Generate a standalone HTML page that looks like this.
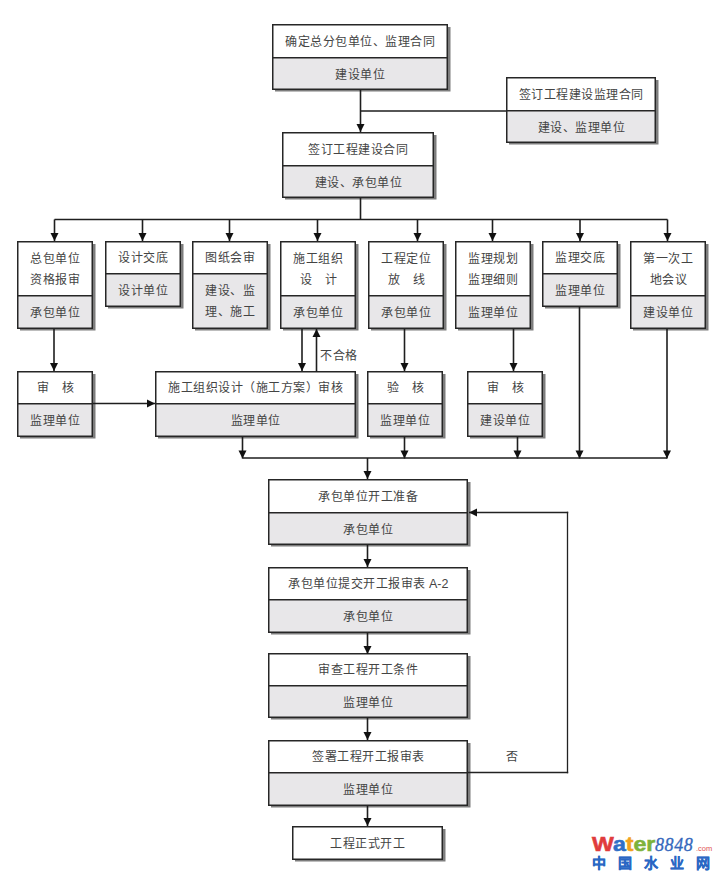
<!DOCTYPE html>
<html lang="zh-CN"><head><meta charset="utf-8"><style>
html,body{margin:0;padding:0;background:#fff;}
body{width:720px;height:880px;position:relative;overflow:hidden;font-family:"Liberation Serif",serif;color:#444;}
.b{position:absolute;box-sizing:border-box;background:#fff;overflow:hidden;}
.sh{position:absolute;background:#8a8a8a;}
.s{position:absolute;left:0;right:0;box-sizing:border-box;display:flex;flex-direction:column;align-items:center;justify-content:center;font-size:12px;line-height:21.5px;letter-spacing:0.5px;text-indent:0.5px;white-space:nowrap;padding-top:4px;}
.g{background:#e8e7e9;padding-top:5px;padding-bottom:1px;}
.t{position:absolute;font-size:12px;line-height:14px;letter-spacing:0.5px;white-space:nowrap;color:#444;}
svg{position:absolute;left:0;top:0;}
</style></head><body>

<svg width="720" height="880" viewBox="0 0 720 880"><rect x="275" y="27" width="175.5" height="64.5" fill="#7d7d7d"/><rect x="509" y="80" width="149.5" height="64.5" fill="#7d7d7d"/><rect x="285" y="135" width="151.5" height="64.5" fill="#7d7d7d"/><rect x="20" y="244" width="75.5" height="86.5" fill="#7d7d7d"/><rect x="108" y="244" width="75.5" height="64.5" fill="#7d7d7d"/><rect x="195" y="244" width="75.5" height="86.5" fill="#7d7d7d"/><rect x="283" y="244" width="75.5" height="86.5" fill="#7d7d7d"/><rect x="371" y="244" width="75.5" height="86.5" fill="#7d7d7d"/><rect x="458" y="244" width="75.5" height="86.5" fill="#7d7d7d"/><rect x="545" y="244" width="75.5" height="64.5" fill="#7d7d7d"/><rect x="633" y="244" width="75.5" height="86.5" fill="#7d7d7d"/><rect x="20" y="374" width="75.5" height="64.5" fill="#7d7d7d"/><rect x="158" y="374" width="200.5" height="64.5" fill="#7d7d7d"/><rect x="370" y="374" width="75.5" height="64.5" fill="#7d7d7d"/><rect x="470" y="374" width="75.5" height="64.5" fill="#7d7d7d"/><rect x="271" y="482" width="199.5" height="64.5" fill="#7d7d7d"/><rect x="271" y="570" width="199.5" height="64.5" fill="#7d7d7d"/><rect x="271" y="656" width="199.5" height="63.5" fill="#7d7d7d"/><rect x="271" y="743" width="199.5" height="64.5" fill="#7d7d7d"/><rect x="295" y="829" width="150.5" height="32.5" fill="#7d7d7d"/></svg>
<div class="b" style="left:272px;top:24px;width:176px;height:66px">
<div class="s" style="top:0;height:33px"><div>确定总分包单位、监理合同</div></div>
<div class="s g" style="top:33px;bottom:0;"><div>建设单位</div></div>
</div>
<div class="b" style="left:506px;top:77px;width:150px;height:66px">
<div class="s" style="top:0;height:33px"><div>签订工程建设监理合同</div></div>
<div class="s g" style="top:33px;bottom:0;"><div>建设、监理单位</div></div>
</div>
<div class="b" style="left:282px;top:132px;width:152px;height:66px">
<div class="s" style="top:0;height:33px"><div>签订工程建设合同</div></div>
<div class="s g" style="top:33px;bottom:0;"><div>建设、承包单位</div></div>
</div>
<div class="b" style="left:17px;top:241px;width:76px;height:88px">
<div class="s" style="top:0;height:54px"><div>总包单位</div><div>资格报审</div></div>
<div class="s g" style="top:54px;bottom:0;"><div>承包单位</div></div>
</div>
<div class="b" style="left:105px;top:241px;width:76px;height:66px">
<div class="s" style="top:0;height:32px"><div>设计交底</div></div>
<div class="s g" style="top:32px;bottom:0;"><div>设计单位</div></div>
</div>
<div class="b" style="left:192px;top:241px;width:76px;height:88px">
<div class="s" style="top:0;height:32px"><div>图纸会审</div></div>
<div class="s g" style="top:32px;bottom:0;padding-top:3px"><div>建设、监</div><div>理、施工</div></div>
</div>
<div class="b" style="left:280px;top:241px;width:76px;height:88px">
<div class="s" style="top:0;height:54px"><div>施工组织</div><div>设　计</div></div>
<div class="s g" style="top:54px;bottom:0;"><div>承包单位</div></div>
</div>
<div class="b" style="left:368px;top:241px;width:76px;height:88px">
<div class="s" style="top:0;height:54px"><div>工程定位</div><div>放　线</div></div>
<div class="s g" style="top:54px;bottom:0;"><div>承包单位</div></div>
</div>
<div class="b" style="left:455px;top:241px;width:76px;height:88px">
<div class="s" style="top:0;height:54px"><div>监理规划</div><div>监理细则</div></div>
<div class="s g" style="top:54px;bottom:0;"><div>监理单位</div></div>
</div>
<div class="b" style="left:542px;top:241px;width:76px;height:66px">
<div class="s" style="top:0;height:32px"><div>监理交底</div></div>
<div class="s g" style="top:32px;bottom:0;"><div>监理单位</div></div>
</div>
<div class="b" style="left:630px;top:241px;width:76px;height:88px">
<div class="s" style="top:0;height:54px"><div>第一次工</div><div>地会议</div></div>
<div class="s g" style="top:54px;bottom:0;"><div>建设单位</div></div>
</div>
<div class="b" style="left:17px;top:371px;width:76px;height:66px">
<div class="s" style="top:0;height:32px"><div>审　核</div></div>
<div class="s g" style="top:32px;bottom:0;"><div>监理单位</div></div>
</div>
<div class="b" style="left:155px;top:371px;width:201px;height:66px">
<div class="s" style="top:0;height:32px"><div>施工组织设计（施工方案）审核</div></div>
<div class="s g" style="top:32px;bottom:0;"><div>监理单位</div></div>
</div>
<div class="b" style="left:367px;top:371px;width:76px;height:66px">
<div class="s" style="top:0;height:32px"><div>验　核</div></div>
<div class="s g" style="top:32px;bottom:0;"><div>监理单位</div></div>
</div>
<div class="b" style="left:467px;top:371px;width:76px;height:66px">
<div class="s" style="top:0;height:32px"><div>审　核</div></div>
<div class="s g" style="top:32px;bottom:0;"><div>建设单位</div></div>
</div>
<div class="b" style="left:268px;top:479px;width:200px;height:66px">
<div class="s" style="top:0;height:33px"><div>承包单位开工准备</div></div>
<div class="s g" style="top:33px;bottom:0;"><div>承包单位</div></div>
</div>
<div class="b" style="left:268px;top:567px;width:200px;height:66px">
<div class="s" style="top:0;height:32px"><div>承包单位提交开工报审表 <span style="font-family:'Liberation Sans',sans-serif;font-size:12.5px;letter-spacing:0">A-2</span></div></div>
<div class="s g" style="top:32px;bottom:0;"><div>承包单位</div></div>
</div>
<div class="b" style="left:268px;top:653px;width:200px;height:65px">
<div class="s" style="top:0;height:32px"><div>审查工程开工条件</div></div>
<div class="s g" style="top:32px;bottom:0;"><div>监理单位</div></div>
</div>
<div class="b" style="left:268px;top:740px;width:200px;height:66px">
<div class="s" style="top:0;height:32px"><div>签署工程开工报审表</div></div>
<div class="s g" style="top:32px;bottom:0;"><div>监理单位</div></div>
</div>
<div class="b" style="left:292px;top:826px;width:151px;height:34px"><div class="s" style="top:0;bottom:0">工程正式开工</div></div>
<svg width="720" height="880" viewBox="0 0 720 880"><rect x="272.75" y="24.75" width="174.5" height="64.5" fill="none" stroke="#262626" stroke-width="1.5"/><line x1="272" y1="57.75" x2="448" y2="57.75" stroke="#262626" stroke-width="1.5"/><rect x="506.75" y="77.75" width="148.5" height="64.5" fill="none" stroke="#262626" stroke-width="1.5"/><line x1="506" y1="110.75" x2="656" y2="110.75" stroke="#262626" stroke-width="1.5"/><rect x="282.75" y="132.75" width="150.5" height="64.5" fill="none" stroke="#262626" stroke-width="1.5"/><line x1="282" y1="165.75" x2="434" y2="165.75" stroke="#262626" stroke-width="1.5"/><rect x="17.75" y="241.75" width="74.5" height="86.5" fill="none" stroke="#262626" stroke-width="1.5"/><line x1="17" y1="295.75" x2="93" y2="295.75" stroke="#262626" stroke-width="1.5"/><rect x="105.75" y="241.75" width="74.5" height="64.5" fill="none" stroke="#262626" stroke-width="1.5"/><line x1="105" y1="273.75" x2="181" y2="273.75" stroke="#262626" stroke-width="1.5"/><rect x="192.75" y="241.75" width="74.5" height="86.5" fill="none" stroke="#262626" stroke-width="1.5"/><line x1="192" y1="273.75" x2="268" y2="273.75" stroke="#262626" stroke-width="1.5"/><rect x="280.75" y="241.75" width="74.5" height="86.5" fill="none" stroke="#262626" stroke-width="1.5"/><line x1="280" y1="295.75" x2="356" y2="295.75" stroke="#262626" stroke-width="1.5"/><rect x="368.75" y="241.75" width="74.5" height="86.5" fill="none" stroke="#262626" stroke-width="1.5"/><line x1="368" y1="295.75" x2="444" y2="295.75" stroke="#262626" stroke-width="1.5"/><rect x="455.75" y="241.75" width="74.5" height="86.5" fill="none" stroke="#262626" stroke-width="1.5"/><line x1="455" y1="295.75" x2="531" y2="295.75" stroke="#262626" stroke-width="1.5"/><rect x="542.75" y="241.75" width="74.5" height="64.5" fill="none" stroke="#262626" stroke-width="1.5"/><line x1="542" y1="273.75" x2="618" y2="273.75" stroke="#262626" stroke-width="1.5"/><rect x="630.75" y="241.75" width="74.5" height="86.5" fill="none" stroke="#262626" stroke-width="1.5"/><line x1="630" y1="295.75" x2="706" y2="295.75" stroke="#262626" stroke-width="1.5"/><rect x="17.75" y="371.75" width="74.5" height="64.5" fill="none" stroke="#262626" stroke-width="1.5"/><line x1="17" y1="403.75" x2="93" y2="403.75" stroke="#262626" stroke-width="1.5"/><rect x="155.75" y="371.75" width="199.5" height="64.5" fill="none" stroke="#262626" stroke-width="1.5"/><line x1="155" y1="403.75" x2="356" y2="403.75" stroke="#262626" stroke-width="1.5"/><rect x="367.75" y="371.75" width="74.5" height="64.5" fill="none" stroke="#262626" stroke-width="1.5"/><line x1="367" y1="403.75" x2="443" y2="403.75" stroke="#262626" stroke-width="1.5"/><rect x="467.75" y="371.75" width="74.5" height="64.5" fill="none" stroke="#262626" stroke-width="1.5"/><line x1="467" y1="403.75" x2="543" y2="403.75" stroke="#262626" stroke-width="1.5"/><rect x="268.75" y="479.75" width="198.5" height="64.5" fill="none" stroke="#262626" stroke-width="1.5"/><line x1="268" y1="512.75" x2="468" y2="512.75" stroke="#262626" stroke-width="1.5"/><rect x="268.75" y="567.75" width="198.5" height="64.5" fill="none" stroke="#262626" stroke-width="1.5"/><line x1="268" y1="599.75" x2="468" y2="599.75" stroke="#262626" stroke-width="1.5"/><rect x="268.75" y="653.75" width="198.5" height="63.5" fill="none" stroke="#262626" stroke-width="1.5"/><line x1="268" y1="685.75" x2="468" y2="685.75" stroke="#262626" stroke-width="1.5"/><rect x="268.75" y="740.75" width="198.5" height="64.5" fill="none" stroke="#262626" stroke-width="1.5"/><line x1="268" y1="772.75" x2="468" y2="772.75" stroke="#262626" stroke-width="1.5"/><rect x="292.75" y="826.75" width="149.5" height="32.5" fill="none" stroke="#262626" stroke-width="1.5"/><line x1="360.5" y1="90" x2="360.5" y2="132" stroke="#1e1e1e" stroke-width="1.6"/><path d="M356.5 124 L364.5 124 L360.5 132 Z" fill="#111"/><line x1="360.5" y1="111" x2="506" y2="111" stroke="#1e1e1e" stroke-width="1.6"/><line x1="360.5" y1="198" x2="360.5" y2="219.5" stroke="#1e1e1e" stroke-width="1.6"/><line x1="54.5" y1="219.5" x2="667.5" y2="219.5" stroke="#1e1e1e" stroke-width="1.6"/><line x1="54.5" y1="219.5" x2="54.5" y2="241" stroke="#1e1e1e" stroke-width="1.6"/><path d="M50.5 233 L58.5 233 L54.5 241 Z" fill="#111"/><line x1="142.5" y1="219.5" x2="142.5" y2="241" stroke="#1e1e1e" stroke-width="1.6"/><path d="M138.5 233 L146.5 233 L142.5 241 Z" fill="#111"/><line x1="229.5" y1="219.5" x2="229.5" y2="241" stroke="#1e1e1e" stroke-width="1.6"/><path d="M225.5 233 L233.5 233 L229.5 241 Z" fill="#111"/><line x1="317.5" y1="219.5" x2="317.5" y2="241" stroke="#1e1e1e" stroke-width="1.6"/><path d="M313.5 233 L321.5 233 L317.5 241 Z" fill="#111"/><line x1="417.5" y1="219.5" x2="417.5" y2="241" stroke="#1e1e1e" stroke-width="1.6"/><path d="M413.5 233 L421.5 233 L417.5 241 Z" fill="#111"/><line x1="492.5" y1="219.5" x2="492.5" y2="241" stroke="#1e1e1e" stroke-width="1.6"/><path d="M488.5 233 L496.5 233 L492.5 241 Z" fill="#111"/><line x1="580" y1="219.5" x2="580" y2="241" stroke="#1e1e1e" stroke-width="1.6"/><path d="M576 233 L584 233 L580 241 Z" fill="#111"/><line x1="667.5" y1="219.5" x2="667.5" y2="241" stroke="#1e1e1e" stroke-width="1.6"/><path d="M663.5 233 L671.5 233 L667.5 241 Z" fill="#111"/><line x1="54" y1="329" x2="54" y2="371" stroke="#1e1e1e" stroke-width="1.6"/><path d="M50 363 L58 363 L54 371 Z" fill="#111"/><line x1="93" y1="403.5" x2="155" y2="403.5" stroke="#1e1e1e" stroke-width="1.6"/><path d="M147 399.5 L147 407.5 L155 403.5 Z" fill="#111"/><line x1="302" y1="329" x2="302" y2="371" stroke="#1e1e1e" stroke-width="1.6"/><path d="M298 363 L306 363 L302 371 Z" fill="#111"/><line x1="316.5" y1="372" x2="316.5" y2="329" stroke="#1e1e1e" stroke-width="1.6"/><path d="M312.5 337 L320.5 337 L316.5 329 Z" fill="#111"/><line x1="404.5" y1="329" x2="404.5" y2="371" stroke="#1e1e1e" stroke-width="1.6"/><path d="M400.5 363 L408.5 363 L404.5 371 Z" fill="#111"/><line x1="513.5" y1="329" x2="513.5" y2="371" stroke="#1e1e1e" stroke-width="1.6"/><path d="M509.5 363 L517.5 363 L513.5 371 Z" fill="#111"/><line x1="242.5" y1="437" x2="242.5" y2="458.5" stroke="#1e1e1e" stroke-width="1.6"/><path d="M238.5 450.5 L246.5 450.5 L242.5 458.5 Z" fill="#111"/><line x1="404.5" y1="437" x2="404.5" y2="458.5" stroke="#1e1e1e" stroke-width="1.6"/><path d="M400.5 450.5 L408.5 450.5 L404.5 458.5 Z" fill="#111"/><line x1="517.5" y1="437" x2="517.5" y2="458.5" stroke="#1e1e1e" stroke-width="1.6"/><path d="M513.5 450.5 L521.5 450.5 L517.5 458.5 Z" fill="#111"/><line x1="579.5" y1="307" x2="579.5" y2="458.5" stroke="#1e1e1e" stroke-width="1.6"/><path d="M575.5 450.5 L583.5 450.5 L579.5 458.5 Z" fill="#111"/><line x1="667" y1="329" x2="667" y2="458.5" stroke="#1e1e1e" stroke-width="1.6"/><path d="M663 450.5 L671 450.5 L667 458.5 Z" fill="#111"/><line x1="242.5" y1="458" x2="667" y2="458" stroke="#1e1e1e" stroke-width="1.6"/><line x1="367.5" y1="458" x2="367.5" y2="479" stroke="#1e1e1e" stroke-width="1.6"/><path d="M363.5 471 L371.5 471 L367.5 479 Z" fill="#111"/><line x1="367.5" y1="545" x2="367.5" y2="567" stroke="#1e1e1e" stroke-width="1.6"/><path d="M363.5 559 L371.5 559 L367.5 567 Z" fill="#111"/><line x1="367.5" y1="633" x2="367.5" y2="654" stroke="#1e1e1e" stroke-width="1.6"/><path d="M363.5 646 L371.5 646 L367.5 654 Z" fill="#111"/><line x1="367.5" y1="718" x2="367.5" y2="740" stroke="#1e1e1e" stroke-width="1.6"/><path d="M363.5 732 L371.5 732 L367.5 740 Z" fill="#111"/><line x1="367.5" y1="806" x2="367.5" y2="826" stroke="#1e1e1e" stroke-width="1.6"/><path d="M363.5 818 L371.5 818 L367.5 826 Z" fill="#111"/><line x1="468" y1="772.5" x2="568.2" y2="772.5" stroke="#222" stroke-width="1.3"/><line x1="567.5" y1="773.2" x2="567.5" y2="511.8" stroke="#222" stroke-width="1.3"/><line x1="568.2" y1="512.5" x2="469" y2="512.5" stroke="#222" stroke-width="1.3"/><path d="M477 508.5 L477 516.5 L469 512.5 Z" fill="#111"/></svg>
<div class="t" style="left:320px;top:349px">不合格</div>
<div class="t" style="left:506px;top:750px">否</div>
<div style="position:absolute;left:592px;top:832px;font-family:'Liberation Sans',sans-serif;font-weight:bold;font-size:21px;line-height:23px;white-space:nowrap;-webkit-text-stroke:0.6px currentColor;transform:scaleX(1.1);transform-origin:0 0">
<span style="color:#e03c3c">W</span><span style="color:#2f6fc8">a</span><span style="color:#f2a21e">t</span><span style="color:#7db23a">er</span></div>
<div style="position:absolute;left:655px;top:836px;font-family:'Liberation Serif',serif;font-style:italic;font-size:18px;line-height:18px;letter-spacing:0.6px;color:#3568bd;-webkit-text-stroke:0.3px currentColor;white-space:nowrap">8848</div>
<div style="position:absolute;left:696px;top:845px;font-family:'Liberation Sans',sans-serif;font-size:7.5px;line-height:8px;color:#e05050">.com</div>
<div style="position:absolute;left:592px;top:855px;font-family:'Liberation Sans',sans-serif;font-weight:bold;font-size:14px;line-height:16px;letter-spacing:12px;color:#2a67c4;-webkit-text-stroke:0.3px currentColor;white-space:nowrap">中国水业网</div>

</body></html>
